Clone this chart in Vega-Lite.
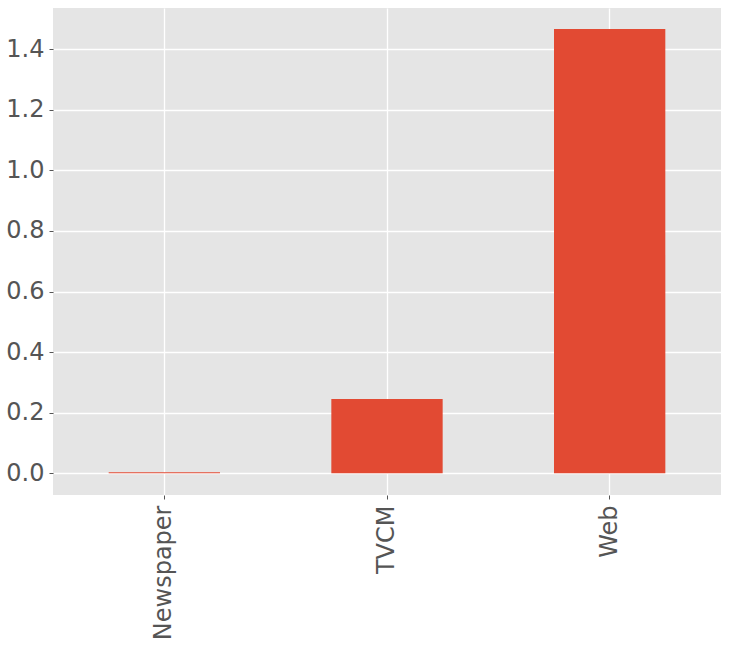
{
  "$schema": "https://vega.github.io/schema/vega-lite/v6.json",
  "width": 668,
  "height": 487,
  "autosize": {"type": "none"},
  "padding": {"left": 53, "top": 8, "right": 8, "bottom": 150},
  "background": "white",
  "data": {"values": [
    {"category": "Newspaper", "value": 0.0035},
    {"category": "TVCM", "value": 0.245},
    {"category": "Web", "value": 1.467}
  ]},
  "mark": {"type": "bar", "color": "#E24A33"},
  "encoding": {
    "x": {
      "field": "category", "type": "nominal", "sort": null,
      "scale": {"paddingInner": 0.5, "paddingOuter": 0.25},
      "axis": {
        "title": null, "labelAngle": -90, "labelAlign": "right", "labelBaseline": "middle",
        "labelFont": "DejaVu Sans", "labelFontSize": 24, "labelColor": "#555555",
        "labelPadding": 6, "tickColor": "#555555", "tickSize": 4, "domain": false,
        "grid": true, "gridColor": "white", "gridWidth": 1.3
      }
    },
    "y": {
      "field": "value", "type": "quantitative",
      "scale": {"domain": [-0.0717, 1.536], "nice": false, "zero": false},
      "axis": {
        "title": null, "values": [0, 0.2, 0.4, 0.6, 0.8, 1.0, 1.2, 1.4], "format": ".1f",
        "labelFont": "DejaVu Sans", "labelFontSize": 24, "labelColor": "#555555",
        "labelPadding": 5, "tickColor": "#555555", "tickSize": 4, "domain": false,
        "grid": true, "gridColor": "white", "gridWidth": 1.3
      }
    }
  },
  "config": {
    "view": {"fill": "#E5E5E5", "stroke": null}
  }
}
